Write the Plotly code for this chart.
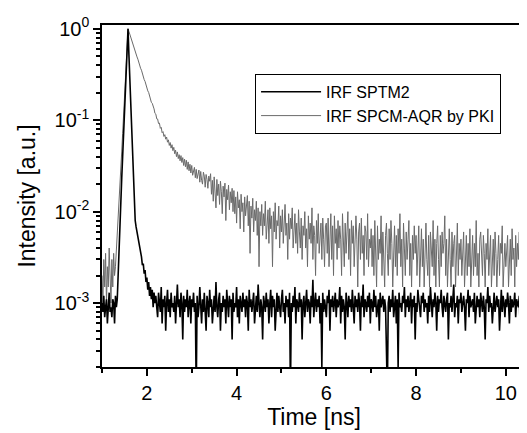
import numpy as np
import plotly.graph_objects as go

# TCSPC histograms, first channel at 1.00 ns, 0.02 ns per channel
TIME_START = 1.0
CHANNEL_WIDTH = 0.02

# IRF SPTM2 - counts per channel (normalised to the peak below)
sptm2_counts = [
    10, 8, 12, 7, 9, 11, 6, 10, 13, 8, 9, 7, 11, 10, 6, 12, 9, 11,
    22, 40, 80, 137, 234, 400, 685, 1170, 2000, 3420, 5850, 10000,
    5200, 2700, 1400, 730, 380, 200, 110, 80, 68, 60,
    55, 47, 43, 35, 32, 26, 27, 21, 23, 17,
    19, 14, 17, 12, 15, 11, 14, 9, 13, 10,
    12, 9, 7, 13, 10, 8, 15, 6, 11, 9, 12, 5, 10, 14, 8, 11, 7, 13, 9, 10,
    8, 12, 6, 10, 16, 9, 11, 7, 13, 10, 4, 12, 8, 11, 9, 14, 7, 10, 12, 6,
    11, 9, 13, 8, 10, 1, 12, 7, 9, 15, 10, 6, 11, 8, 13, 9, 5, 12, 10, 7,
    14, 9, 11, 6, 10, 12, 8, 17, 9, 7, 11, 13, 5, 10, 8, 12, 9, 11, 6, 14,
    10, 7, 12, 9, 11, 4, 13, 8, 10, 9, 15, 7, 11, 6, 12, 10, 8, 13, 9, 11,
    7, 12, 10, 5, 14, 9, 11, 8, 10, 13, 6, 9, 12, 8, 16, 10, 7, 11, 9, 4,
    12, 10, 8, 13, 9, 11, 6, 10, 14, 7, 12, 9, 11, 5, 10, 13, 8, 12, 9, 7,
    11, 14, 8, 10, 6, 12, 9, 11, 7, 13, 1, 10, 8, 12, 9, 15, 6, 11, 10, 8,
    13, 9, 11, 4, 10, 12, 7, 9, 14, 8, 11, 10, 6, 12, 9, 18, 7, 10, 13, 8,
    11, 9, 12, 6, 10, 2, 13, 8, 11, 9, 7, 12, 10, 14, 5, 11, 9, 12, 8, 10,
    13, 7, 11, 9, 10, 15, 6, 12, 8, 11, 9, 4, 13, 10, 7, 12, 9, 11, 8, 14,
    10, 6, 12, 9, 11, 8, 13, 10, 5, 12, 9, 16, 7, 11, 10, 8, 12, 9, 13, 6,
    11, 10, 8, 14, 9, 12, 7, 10, 11, 5, 13, 9, 10, 12, 8, 11, 9, 1, 1, 10,
    12, 8, 11, 9, 14, 7, 10, 12, 6, 11, 2, 13, 9, 10, 8, 12, 10, 15, 7, 11,
    9, 12, 8, 10, 13, 6, 11, 9, 12, 4, 10, 8, 14, 11, 9, 7, 12, 10, 13, 8,
    11, 9, 10, 6, 12, 8, 15, 10, 7, 11, 9, 13, 10, 5, 12, 8, 11, 10, 14, 9,
    7, 12, 10, 8, 11, 13, 4, 10, 9, 12, 8, 11, 16, 7, 10, 9, 12, 6, 11, 10,
    13, 8, 10, 12, 9, 5, 11, 10, 14, 7, 12, 9, 10, 11, 8, 13, 6, 10, 12, 9,
    11, 7, 13, 10, 8, 12, 9, 4, 11, 10, 15, 8, 12, 9, 10, 6, 11, 13, 8, 10,
    12, 9, 11, 5, 10, 14, 8, 12, 10, 7, 11, 9, 13, 10, 6, 12, 8, 11, 9, 10,
    13, 7, 11, 10, 9, 12, 5, 10, 8, 14, 11, 9, 12, 7, 10,
]

# IRF SPCM-AQR by PKI - counts per channel
spcm_counts = [
    4, 2, 6, 3, 7, 2, 5, 3, 8, 4, 2, 6, 3, 7, 4, 5, 8, 10,
    16, 25, 38, 60, 92, 143, 222, 344, 533, 826, 1280, 2000,
    1870, 1730, 1628, 1505, 1415, 1300, 1230, 1132, 1070, 985,
    930, 851, 808, 740, 705, 641, 612, 556, 531, 484,
    463, 419, 402, 362, 350, 314, 306, 271, 266, 238,
    233, 207, 206, 184, 186, 163, 167, 146, 150, 133,
    139, 124, 131, 115, 122, 106, 114, 99, 108, 93,
    101, 86, 94, 80, 90, 76, 84, 72, 82, 69,
    78, 64, 75, 62, 73, 58, 70, 56, 66, 53,
    64, 50, 55, 61, 47, 58, 46, 52, 57, 42,
    55, 44, 40, 54, 49, 37, 51, 45, 36, 49, 43,
    52, 31, 44, 26, 48, 35, 22, 45, 30, 40, 24, 43, 33,
    19, 38, 29, 41, 16, 35, 27, 39, 21, 33, 25, 36, 20,
    34, 19, 29, 15, 33, 22, 27, 13, 31, 20, 25, 12, 29, 18, 24, 30,
    14, 26, 7, 23, 17, 28, 12, 21, 16, 26, 11, 22, 5, 20, 14,
    24, 11, 19, 14, 26, 10, 17, 21, 9, 22, 13, 18, 5, 20, 12, 25, 10, 16, 14,
    23, 8, 18, 12, 21, 9, 17, 24, 11, 15, 6, 19, 10, 17, 13, 22, 8, 15,
    19, 9, 15, 7, 21, 12, 8, 17, 6, 14, 11, 20, 8, 13, 5, 18, 10, 15,
    9, 22, 6, 14, 11, 4, 16, 9, 19, 7, 12, 15, 6, 17, 10, 5, 14,
    15, 7, 17, 5, 12, 19, 6, 14, 4, 18, 9, 13, 6, 16, 8, 14, 10, 4, 19, 11,
    5, 15, 7, 12, 20, 6, 13, 4, 16, 9, 14, 5, 8, 18, 10, 3, 12, 15, 6, 17,
    7, 11, 4, 14, 12, 6, 19, 5, 10, 8,
    13, 5, 11, 4, 16, 8, 3, 14, 6, 10, 7, 18, 4, 12, 6, 3, 11, 15, 7, 4,
    13, 6, 16, 9, 3, 8, 14, 5, 11, 4, 13, 7, 19, 5, 10, 3, 15, 8, 4, 12,
    6, 10, 16, 4, 9, 3, 11, 6, 14, 7,
    11, 4, 9, 14, 3, 7, 13, 5, 10, 3, 9, 15, 6, 4, 11, 3, 12, 8, 5, 16,
    4, 10, 3, 9, 14, 6, 3, 11, 5, 12, 7, 9, 18, 4, 10, 3, 8, 13, 6, 3,
    12, 5, 9, 11, 3, 7, 15, 4, 9, 6,
    10, 4, 8, 12, 3, 6, 11, 4, 9, 5, 13, 3, 8, 11, 4, 9, 5, 16, 4, 7,
    3, 10, 12, 5, 4, 11, 7, 3, 9, 6, 13, 4, 8, 11, 3, 6, 10, 4, 12, 7,
    3, 6, 11, 4, 9, 7, 14, 3, 6, 9,
    5, 9, 11, 3, 7, 10, 4, 13, 6, 8, 3, 11, 5, 9, 6, 12, 3, 8, 5, 10,
    6, 9, 3, 8, 7,
]

assert len(sptm2_counts) == len(spcm_counts), (len(sptm2_counts), len(spcm_counts))

y_tick_vals = [1e-3, 1e-2, 1e-1, 1]
y_tick_text = ['10<sup>-3</sup>', '10<sup>-2</sup>', '10<sup>-1</sup>', '10<sup>0</sup>']
x_tick_vals = [2, 4, 6, 8, 10]


def channel_times(counts):
    return TIME_START + CHANNEL_WIDTH * np.arange(len(counts))


def normalise(counts):
    counts = np.array(counts, dtype=float)
    return counts / counts.max()


fig = go.Figure()

# grey trace first so the black one sits on top; legend order via legendrank
fig.add_trace(go.Scatter(
    x=channel_times(spcm_counts),
    y=normalise(spcm_counts),
    mode='lines',
    line=dict(color='#6a6a6a', width=1),
    name='IRF SPCM-AQR by PKI',
    legendrank=2,
))
fig.add_trace(go.Scatter(
    x=channel_times(sptm2_counts),
    y=normalise(sptm2_counts),
    mode='lines',
    line=dict(color='black', width=1.6),
    name='IRF SPTM2',
    legendrank=1,
))

minor_y = [k * 10.0 ** e for e in range(-4, 1) for k in range(2, 10)]

# the page body adds an 8px margin, so the figure margins are shifted to compensate
fig.update_layout(
    width=527,
    height=433,
    margin=dict(l=94, r=9, t=17, b=74),
    paper_bgcolor='white',
    plot_bgcolor='white',
    font=dict(family='Liberation Sans, Arial, sans-serif', color='black', size=20),
    showlegend=True,
    legend=dict(
        x=0.361, y=0.857, xanchor='left', yanchor='top',
        bgcolor='white', bordercolor='black', borderwidth=1,
        font=dict(size=16), itemwidth=60,
    ),
)

fig.update_xaxes(
    range=[1.0, 10.45],
    tickvals=x_tick_vals,
    tickfont=dict(size=20),
    ticks='outside', ticklen=7, tickwidth=1.5, tickcolor='black',
    minor=dict(tickvals=[1, 3, 5, 7, 9], ticks='outside', ticklen=4,
               tickwidth=1.5, tickcolor='black'),
    showline=True, linecolor='black', linewidth=1.5, mirror=True,
    showgrid=False, zeroline=False, automargin=False,
    title=dict(text='Time [ns]', font=dict(size=23), standoff=6),
)

fig.update_yaxes(
    type='log',
    range=[np.log10(2e-4), np.log10(1.1)],
    tickvals=y_tick_vals, ticktext=y_tick_text,
    tickfont=dict(size=20),
    ticks='outside', ticklen=7, tickwidth=1.5, tickcolor='black',
    minor=dict(tickvals=minor_y, ticks='outside', ticklen=4,
               tickwidth=1.5, tickcolor='black'),
    showline=True, linecolor='black', linewidth=1.5, mirror=True,
    showgrid=False, zeroline=False, automargin=False,
    title=dict(text='Intensity [a.u.]', font=dict(size=23), standoff=12),
)

fig.write_html('out.html')
